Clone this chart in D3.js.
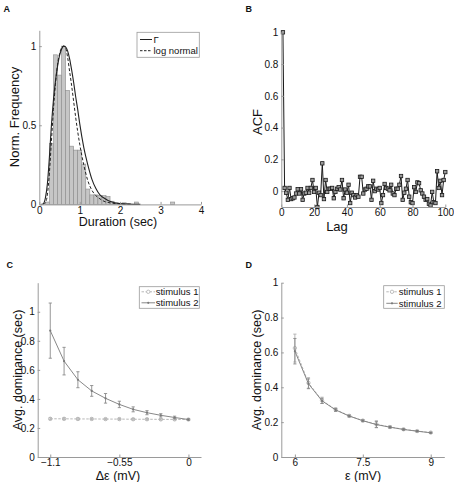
<!DOCTYPE html>
<html><head><meta charset="utf-8">
<script src="https://cdn.jsdelivr.net/npm/d3@7"></script>
<style>body{margin:0;background:#fff;} text{font-family:"Liberation Sans",Arial,Helvetica,sans-serif;fill:#111;}</style>
</head><body><svg id="c" width="454" height="482"></svg>
<script>
// ---------- Panel A data ----------
const histCenters = [0.2,0.3,0.4,0.5,0.6,0.7,0.8,0.9,1.0,1.1,1.2,1.3,1.4,1.5,1.6,1.7,1.8,1.9,2.0,2.1,2.2,2.4,3.3];
const histHeights = [0.015,0.385,0.945,0.817,1.0,0.72,0.368,0.343,0.343,0.255,0.097,0.06,0.06,0.055,0.055,0.05,0.02,0.01,0.006,0.01,0.005,0.015,0.015];
const histBinWidth = 0.1;
const gammaX = [0.05,0.1,0.15,0.2,0.25,0.3,0.35,0.4,0.45,0.5,0.55,0.6,0.65,0.7,0.75,0.8,0.85,0.9,0.95,1.0,1.1,1.2,1.3,1.4,1.5,1.6,1.7,1.8,2.0,2.2,2.5];
const gammaY = [0,0.005,0.04,0.13,0.3,0.5,0.66,0.78,0.87,0.94,0.98,1.0,0.995,0.97,0.92,0.85,0.77,0.68,0.6,0.51,0.36,0.25,0.16,0.1,0.06,0.04,0.025,0.015,0.005,0.002,0];
const lognX = [0.1,0.15,0.2,0.25,0.3,0.35,0.4,0.45,0.5,0.55,0.6,0.65,0.7,0.75,0.8,0.85,0.9,0.95,1.0,1.1,1.2,1.3,1.4,1.5,1.6,1.8,2.0,2.3];
const lognY = [0,0.01,0.06,0.2,0.4,0.6,0.76,0.88,0.95,0.99,1.0,0.99,0.93,0.84,0.75,0.65,0.55,0.46,0.38,0.25,0.15,0.09,0.055,0.035,0.02,0.008,0.003,0];
const aXTicks = [0,1,2,3,4];
const aYTicks = [0,0.5,1];
const aLegend = ["\u0393","log normal"];

// ---------- Panel B data ----------
const acfLags = d3.range(1,101);
const acfValues = [1.0,0.02,-0.01,-0.055,0.02,-0.05,-0.045,-0.04,-0.015,0.012,
 -0.015,0.012,-0.055,-0.015,-0.01,0.02,-0.01,0.02,0.07,-0.005,
 0.02,-0.1,-0.01,-0.025,0.175,-0.05,0.07,-0.005,0.015,0.015,
 0.02,-0.045,-0.005,0.015,0.025,0.01,0.07,-0.045,0.01,-0.01,
 0.04,-0.075,-0.01,-0.025,-0.04,-0.025,-0.035,0.09,0.09,-0.015,
 0.01,0.015,0.03,0.03,-0.055,0.065,0,0.015,0.01,0.02,
 -0.075,-0.025,0.045,0.02,0.015,0.005,0.04,-0.015,-0.025,0.015,
 0.015,0.04,0.095,-0.055,-0.01,0.015,0.07,-0.035,-0.07,-0.075,
 0.025,-0.005,0.055,0.05,0.005,-0.015,-0.035,-0.055,-0.05,-0.08,
 -0.09,-0.005,-0.07,-0.075,0.125,0.02,0.065,-0.025,0.07,0.12];
const bXTicks = [0,20,40,60,80,100];
const bYTicks = [0,0.2,0.4,0.6,0.8,1];

// ---------- Panel C data ----------
const cX = [-1.1,-0.99,-0.88,-0.77,-0.66,-0.55,-0.44,-0.33,-0.22,-0.11,0];
const cStim1 = [0.263,0.263,0.262,0.262,0.261,0.261,0.26,0.26,0.259,0.259,0.258];
const cStim1Err = [0.007,0.007,0.007,0.006,0.006,0.006,0.006,0.006,0.005,0.005,0.005];
const cStim2 = [0.87,0.66,0.532,0.455,0.404,0.362,0.328,0.305,0.287,0.272,0.258];
const cStim2Err = [0.19,0.095,0.055,0.037,0.033,0.022,0.017,0.014,0.011,0.009,0.005];
const cXTicks = [-1.1,-0.55,0];
const cXTickLabels = ["\u22121.1","\u22120.55","0"];
const cYTicks = [0,0.2,0.4,0.6,0.8,1];

// ---------- Panel D data ----------
const dX = [6,6.3,6.6,6.9,7.2,7.5,7.8,8.1,8.4,8.7,9];
const dStim1 = [0.625,0.425,0.325,0.272,0.236,0.209,0.188,0.172,0.159,0.149,0.14];
const dStim1Err = [0.08,0.03,0.018,0.01,0.006,0.006,0.02,0.006,0.005,0.004,0.004];
const dStim2 = [0.607,0.42,0.322,0.27,0.235,0.208,0.186,0.171,0.158,0.148,0.139];
const dStim2Err = [0.073,0.028,0.015,0.008,0.005,0.005,0.017,0.005,0.004,0.004,0.003];
const dXTicks = [6,7.5,9];
const dYTicks = [0,0.2,0.4,0.6,0.8,1];
const stimLegend = ["stimulus 1","stimulus 2"];

const svg = d3.select('#c');
const AX = '#9a9a9a';

function drawAxes(x, y, xt, yt, xfmt, yfmt, xpad) {
  const g = svg.append('g');
  const gx = g.append('g').attr('transform', `translate(0,${y.range()[0]})`)
    .call(d3.axisBottom(x).tickValues(xt).tickFormat(xfmt).tickSizeInner(-2.5).tickSizeOuter(0).tickPadding(xpad == null ? 3 : xpad));
  const gy = g.append('g').attr('transform', `translate(${x.range()[0]},0)`)
    .call(d3.axisLeft(y).tickValues(yt).tickFormat(yfmt).tickSizeInner(-2.5).tickSizeOuter(0).tickPadding(3));
  [gx, gy].forEach(a => {
    a.select('.domain').attr('stroke', AX);
    a.selectAll('.tick line').attr('stroke', AX);
    a.selectAll('.tick text').style('font-size', '10px').attr('fill', '#111')
      .style('font-family', '"Liberation Sans",Arial,sans-serif');
  });
  return g;
}
function label(txt, x, y, rot, size) {
  const t = svg.append('text').attr('text-anchor','middle').style('font-size', (size||13)+'px').text(txt);
  if (rot) t.attr('transform', `translate(${x},${y}) rotate(-90)`); else t.attr('x', x).attr('y', y);
  return t;
}
function panelLetter(txt, x, y) {
  svg.append('text').attr('x', x).attr('y', y).style('font-size','9px').style('font-weight','bold').text(txt);
}

// ================= Panel A =================
{
  const x = d3.scaleLinear([0,4],[39.3,201]);
  const y = d3.scaleLinear([0,1.1],[204.4,30.3]);
  const bars = histCenters.map((c,i)=>({c, h: histHeights[i]}));
  svg.append('g').selectAll('rect').data(bars).join('rect')
    .attr('x', d => x(d.c - histBinWidth/2))
    .attr('width', d => x(d.c + histBinWidth/2) - x(d.c - histBinWidth/2))
    .attr('y', d => y(d.h)).attr('height', d => y(0) - y(d.h))
    .attr('fill', '#c6c6c6').attr('stroke', '#8c8c8c').attr('stroke-width', 0.6);
  const line = d3.line().x(d=>x(d[0])).y(d=>y(d[1])).curve(d3.curveMonotoneX);
  svg.append('path').attr('d', line(lognX.map((v,i)=>[v,lognY[i]])))
    .attr('fill','none').attr('stroke','#222').attr('stroke-width',1).attr('stroke-dasharray','3,2');
  svg.append('path').attr('d', line(gammaX.map((v,i)=>[v,gammaY[i]])))
    .attr('fill','none').attr('stroke','#222').attr('stroke-width',1.1);
  drawAxes(x, y, aXTicks, aYTicks, d3.format('~g'), d3.format('~g'));
  label('Duration (sec)', 118, 226, false, 12.5);
  label('Norm. Frequency', 19, 117, true, 13);
  panelLetter('A', 3.5, 12);
  // legend
  const lg = svg.append('g');
  lg.append('rect').attr('x',137).attr('y',32.3).attr('width',62.3).attr('height',25)
    .attr('fill','#fff').attr('stroke',AX).attr('stroke-width',0.8);
  const rows = [39.5, 50.7];
  aLegend.forEach((t,i) => {
    lg.append('line').attr('x1',140).attr('x2',152).attr('y1',rows[i]).attr('y2',rows[i])
      .attr('stroke','#222').attr('stroke-width',1).attr('stroke-dasharray', i ? '2.5,1.5' : null);
    lg.append('text').attr('x',153.5).attr('y',rows[i]+3.3).style('font-size','9.5px').text(t);
  });
}

// ================= Panel B =================
{
  const x = d3.scaleLinear([0,100],[281.3,445.3]);
  const y = d3.scaleLinear([-0.1,1],[207,32.3]);
  const pts = acfLags.map((l,i)=>[l, acfValues[i]]);
  svg.append('path').attr('d', d3.line().x(d=>x(d[0])).y(d=>y(d[1]))(pts))
    .attr('fill','none').attr('stroke','#1a1a1a').attr('stroke-width',1);
  const s = 3.4;
  svg.append('g').selectAll('rect').data(pts).join('rect')
    .attr('x', d => x(d[0]) - s/2).attr('y', d => y(d[1]) - s/2)
    .attr('width', s).attr('height', s)
    .attr('fill','#9a9a9a').attr('stroke','#1a1a1a').attr('stroke-width',0.8);
  drawAxes(x, y, bXTicks, bYTicks, d3.format('~g'), d3.format('~g'), 2);
  label('Lag', 337, 230.5, false, 13);
  label('ACF', 262, 122, true, 13);
  panelLetter('B', 245.5, 12);
}

// helpers for C/D
function drawSeries(x, y, xs, ys, errs, opts) {
  const pts = xs.map((v,i)=>({x:v, y:ys[i], e:errs[i]}));
  const g = svg.append('g');
  g.append('path').attr('d', d3.line().x(d=>x(d.x)).y(d=>y(d.y))(pts))
    .attr('fill','none').attr('stroke',opts.color).attr('stroke-width',opts.width||0.9)
    .attr('stroke-dasharray', opts.dash || null);
  const eb = g.append('g').selectAll('g').data(pts).join('g').attr('stroke', opts.errColor||opts.color).attr('stroke-width',0.9);
  eb.append('line').attr('x1',d=>x(d.x)).attr('x2',d=>x(d.x)).attr('y1',d=>y(d.y-d.e)).attr('y2',d=>y(d.y+d.e));
  eb.append('line').attr('x1',d=>x(d.x)-1.6).attr('x2',d=>x(d.x)+1.6).attr('y1',d=>y(d.y-d.e)).attr('y2',d=>y(d.y-d.e));
  eb.append('line').attr('x1',d=>x(d.x)-1.6).attr('x2',d=>x(d.x)+1.6).attr('y1',d=>y(d.y+d.e)).attr('y2',d=>y(d.y+d.e));
  if (opts.marker === 'circle') {
    g.append('g').selectAll('circle').data(pts).join('circle')
      .attr('cx',d=>x(d.x)).attr('cy',d=>y(d.y)).attr('r',1.7)
      .attr('fill','none').attr('stroke',opts.color).attr('stroke-width',0.8);
  } else {
    g.append('g').selectAll('circle').data(pts).join('circle')
      .attr('cx',d=>x(d.x)).attr('cy',d=>y(d.y)).attr('r',1.1)
      .attr('fill',opts.color);
  }
}
function stimLegendBox(x0, y0, w, h, rows, sx1, sx2, tx) {
  const lg = svg.append('g');
  lg.append('rect').attr('x',x0).attr('y',y0).attr('width',w).attr('height',h)
    .attr('fill','#fff').attr('stroke',AX).attr('stroke-width',0.8);
  const styles = [{c:'#b0b0b0', dash:'2.5,1.5', m:'circle'}, {c:'#7a7a7a', dash:null, m:'dot'}];
  stimLegend.forEach((t,i) => {
    const st = styles[i];
    lg.append('line').attr('x1',sx1).attr('x2',sx2).attr('y1',rows[i]).attr('y2',rows[i])
      .attr('stroke',st.c).attr('stroke-width',0.9).attr('stroke-dasharray',st.dash);
    if (st.m === 'circle') lg.append('circle').attr('cx',(sx1+sx2)/2).attr('cy',rows[i]).attr('r',1.7)
      .attr('fill','#fff').attr('stroke',st.c).attr('stroke-width',0.8);
    else lg.append('circle').attr('cx',(sx1+sx2)/2).attr('cy',rows[i]).attr('r',1.1).attr('fill',st.c);
    lg.append('text').attr('x',tx).attr('y',rows[i]+3.3).style('font-size','9.5px').text(t);
  });
}

// ================= Panel C =================
{
  const x = d3.scaleLinear([-1.2,0.1],[37.7,201]);
  const y = d3.scaleLinear([0,1.2],[457,282.7]);
  drawSeries(x, y, cX, cStim1, cStim1Err, {color:'#b0b0b0', dash:'2.5,1.5', marker:'circle'});
  drawSeries(x, y, cX, cStim2, cStim2Err, {color:'#7a7a7a', errColor:'#8a8a8a', marker:'dot'});
  drawAxes(x, y, cXTicks, cYTicks, (d,i)=>cXTickLabels[i], d3.format('~g'), 2);
  label('\u0394\u03b5 (mV)', 118, 480, false, 12.5);
  label('Avg. dominance (sec)', 22, 370, true, 12.5);
  panelLetter('C', 6.5, 268);
  stimLegendBox(139.3, 286.7, 60, 21.6, [291.8, 302.8], 141.5, 155, 155.7);
}

// ================= Panel D =================
{
  const x = d3.scaleLinear([5.7,9.3],[281.3,444.3]);
  const y = d3.scaleLinear([0,1],[457,282.7]);
  drawSeries(x, y, dX, dStim1, dStim1Err, {color:'#b0b0b0', dash:'2.5,1.5', marker:'circle'});
  drawSeries(x, y, dX, dStim2, dStim2Err, {color:'#7a7a7a', errColor:'#8a8a8a', marker:'dot'});
  drawAxes(x, y, dXTicks, dYTicks, d3.format('~g'), d3.format('~g'), 2);
  label('\u03b5 (mV)', 363, 480, false, 12.5);
  label('Avg. dominance (sec)', 261, 370, true, 12.5);
  panelLetter('D', 245.5, 268);
  stimLegendBox(383.7, 285.7, 60.6, 22.6, [291.8, 303.3], 386.3, 397.7, 398.7);
}
</script></body></html>
